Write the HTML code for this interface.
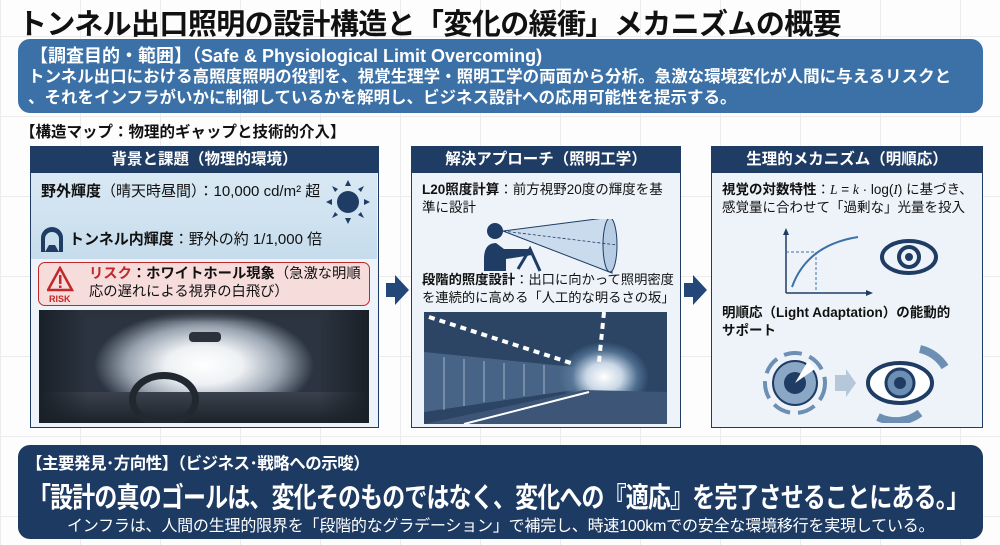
<!DOCTYPE html>
<html><head><meta charset="utf-8"><style>
*{margin:0;padding:0;box-sizing:border-box}
body{width:1000px;height:545px;overflow:hidden;position:relative;font-family:"Liberation Sans","Noto Sans CJK JP",sans-serif;color:#111;
background-color:#fdfdfd;background-image:linear-gradient(#ececec 1px,transparent 1px),linear-gradient(90deg,#ececec 1px,transparent 1px);background-size:80px 80px;background-position:0 36px}
.a{position:absolute;white-space:nowrap}
.title{left:18px;top:1px;font-size:29px;font-weight:bold;letter-spacing:-0.6px}
.top{left:18px;top:39px;width:965px;height:74px;background:#3c71a8;border-radius:12px;color:#fff}
.panel{position:absolute;top:146px;height:282px;border:1.5px solid #1f3c64;background:#eef3f9}
.ph{height:26px;background:#1f3c64;color:#fff;font-weight:bold;font-size:15.5px;text-align:center;line-height:26px}
.t{font-size:13.5px;line-height:18px;position:absolute;white-space:nowrap}
.bot{left:18px;top:445px;width:965px;height:94px;background:#1d3a62;border-radius:12px;color:#fff;overflow:hidden}
.arr{position:absolute;width:0;height:0;border-top:15px solid transparent;border-bottom:15px solid transparent;border-left:14px solid #24477a}
.arrb{position:absolute;width:10px;height:14px;background:#24477a}
</style></head><body>
<div class="a title">トンネル出口照明の設計構造と「変化の緩衝」メカニズムの概要</div>
<div class="a top">
 <div class="a" style="left:12px;top:3px;font-size:18px;font-weight:bold">【調査目的・範囲】（Safe &amp; Physiological Limit Overcoming)</div>
 <div class="a" style="left:10px;top:28px;font-size:16.5px;line-height:21px;font-weight:bold">トンネル出口における高照度照明の役割を、視覚生理学・照明工学の両面から分析。急激な環境変化が人間に与えるリスクと<br>、それをインフラがいかに制御しているかを解明し、ビジネス設計への応用可能性を提示する。</div>
</div>
<div class="a" style="left:20px;top:120px;font-size:15.5px;font-weight:bold">【構造マップ：物理的ギャップと技術的介入】</div>

<div class="panel" style="left:30px;width:349px">
 <div class="ph">背景と課題（物理的環境）</div>
 <div style="position:absolute;left:0;top:26px;width:346px;height:86px;background:linear-gradient(180deg,#d9e9f4,#c6dcec)"></div>
 <div class="t" style="left:10px;top:36px;font-size:15px"><b>野外輝度</b>（晴天時昼間）：10,000 cd/m² 超</div>
 <svg style="position:absolute;left:292px;top:30px" width="50" height="50"><g fill="#1f3c64"><circle cx="25" cy="25" r="11"/><polygon points="25,3 22,9 28,9"/><polygon points="25,47 22,41 28,41"/><polygon points="3,25 9,22 9,28"/><polygon points="47,25 41,22 41,28"/><polygon points="9,9 12,15 15,12"/><polygon points="41,9 35,12 38,15"/><polygon points="9,41 12,35 15,38"/><polygon points="41,41 38,35 35,38"/></g></svg>
 <svg style="position:absolute;left:10px;top:79px" width="22" height="26"><path d="M0 26 V12 A11 11 0 0 1 22 12 V26 H18 V13 A7 7 0 0 0 4 13 V26Z" fill="#1f3c64"/><path d="M4 26 L8 19 H14 L18 26Z" fill="#1f3c64"/></svg>
 <div class="t" style="left:38px;top:84px;font-size:15px"><b>トンネル内輝度</b>：野外の約 1/1,000 倍</div>
 <div style="position:absolute;left:7px;top:115px;width:332px;height:44px;background:#f7dcdc;border:1.5px solid #c0282a;border-radius:7px"></div>
 <svg style="position:absolute;left:16px;top:119px" width="32" height="38"><path d="M13 2 L25 24 H1Z" fill="none" stroke="#c0282a" stroke-width="2.5"/><rect x="12" y="9" width="2.5" height="9" fill="#c0282a"/><rect x="12" y="19.5" width="2.5" height="2.5" fill="#c0282a"/><text x="2" y="36" font-size="9" font-weight="bold" fill="#c0282a" font-family="Liberation Sans">RISK</text></svg>
 <div class="t" style="left:58px;top:118px;font-size:14.3px"><b style="color:#c0282a">リスク</b><b>：ホワイトホール現象</b>（急激な明順<br>応の遅れによる視界の白飛び）</div>
 <div style="position:absolute;left:8px;top:163px;width:330px;height:113px;background:radial-gradient(ellipse 110px 55px at 165px 55px,#fff 0%,#eef1f4 35%,#98a3b0 70%,#2b3440 100%);overflow:hidden">
  <div style="position:absolute;left:0;top:82px;width:330px;height:31px;background:linear-gradient(#3a424d,#1c222a)"></div>
  <div style="position:absolute;left:90px;top:62px;width:70px;height:55px;border:7px solid #222830;border-radius:50%"></div>
  <div style="position:absolute;left:0;top:0;width:50px;height:113px;background:linear-gradient(90deg,#1a2028,transparent)"></div>
  <div style="position:absolute;right:0;top:0;width:50px;height:113px;background:linear-gradient(270deg,#1a2028,transparent)"></div>
  <div style="position:absolute;left:40px;top:0;width:250px;height:12px;background:linear-gradient(#2b323c,transparent)"></div>
  <div style="position:absolute;left:150px;top:22px;width:32px;height:10px;background:#2b323c;border-radius:4px"></div>
 </div>
</div>
<div class="arrb" style="left:386px;top:283px"></div><div class="arr" style="left:395px;top:275px"></div>

<div class="panel" style="left:411px;width:270px">
 <div class="ph">解決アプローチ（照明工学）</div>
 <div class="t" style="left:10px;top:34px"><b>L20照度計算</b>：前方視野20度の輝度を基<br>準に設計</div>
 <svg style="position:absolute;left:70px;top:72px" width="140" height="62"><circle cx="13" cy="12" r="8" fill="#1f3c64"/><path d="M2 40 Q2 24 14 24 L22 30 L50 30 L50 36 L24 40 L24 52 L2 52Z" fill="#1f3c64"/><path d="M36 50 L48 30 L58 52" stroke="#1f3c64" stroke-width="3" fill="none"/><path d="M21 12 L130 -2 L130 54Z" fill="#c9dbec" stroke="#1f3c64" stroke-width="1"/><ellipse cx="128" cy="26" rx="7" ry="27" fill="#b7cde3" stroke="#1f3c64"/><line x1="21" y1="12" x2="135" y2="26" stroke="#1f3c64" stroke-dasharray="3 2" stroke-width="0.8"/></svg>
 <div class="t" style="left:10px;top:124px;font-size:13.3px"><b>段階的照度設計</b>：出口に向かって照明密度<br>を連続的に高める「人工的な明るさの坂」</div>
 <div style="position:absolute;left:12px;top:165px;width:243px;height:112px;background:radial-gradient(ellipse 45px 35px at 180px 65px,#fff 0%,#c9d7e6 40%,#4d6d8f 75%,#2c4565 100%);overflow:hidden">
  <svg style="position:absolute;left:0;top:0" width="243" height="112"><path d="M0 40 L150 55 L150 78 L0 100Z" fill="#5a7a9c" opacity="0.6"/><path d="M0 112 L160 78 L243 80 L243 112Z" fill="#3d5677"/><path d="M40 112 L165 80" stroke="#fff" stroke-width="2"/><path d="M5 5 L150 52" stroke="#fff" stroke-width="4" stroke-dasharray="6 5"/><path d="M180 0 L175 50" stroke="#fff" stroke-width="4" stroke-dasharray="6 5"/><g stroke="#c9d7e6" stroke-width="1" opacity="0.7"><path d="M20 45 V98 M40 47 V94 M60 49 V90 M80 51 V87 M100 52 V84 M120 53 V82"/></g></svg>
 </div>
</div>
<div class="arrb" style="left:684px;top:283px"></div><div class="arr" style="left:693px;top:275px"></div>

<div class="panel" style="left:711px;width:272px">
 <div class="ph">生理的メカニズム（明順応）</div>
 <div class="t" style="left:10px;top:34px"><b>視覚の対数特性</b>：<i style="font-family:'Liberation Serif',serif">L</i> = <i style="font-family:'Liberation Serif',serif">k</i> · log(<i style="font-family:'Liberation Serif',serif">I</i>) に基づき、<br>感覚量に合わせて「過剰な」光量を投入</div>
 <svg style="position:absolute;left:70px;top:80px" width="160" height="70"><path d="M4 66 V4 M4 66 H88" stroke="#1f3c64" stroke-width="1.5" fill="none"/><path d="M1 8 L4 1 L7 8Z M84 63 L91 66 L84 69Z" fill="#1f3c64"/><path d="M10 60 Q25 18 76 10" stroke="#3c71a8" stroke-width="2" fill="none"/><path d="M4 25 H34 V66" stroke="#3c71a8" stroke-dasharray="3 2" fill="none"/><ellipse cx="127" cy="30" rx="27" ry="16" fill="none" stroke="#1f3c64" stroke-width="4"/><circle cx="127" cy="30" r="10" fill="none" stroke="#1f3c64" stroke-width="4"/><circle cx="127" cy="30" r="4" fill="#1f3c64"/></svg>
 <div class="t" style="left:10px;top:157px"><b>明順応（Light Adaptation）の能動的<br>サポート</b></div>
 <svg style="position:absolute;left:48px;top:198px" width="200" height="78"><circle cx="35" cy="38" r="30" fill="none" stroke="#6d8fb3" stroke-width="4" stroke-dasharray="18 8"/><circle cx="35" cy="38" r="22" fill="#8aa7c6" stroke="#1f3c64" stroke-width="2"/><circle cx="35" cy="38" r="11" fill="#1f3c64"/><path d="M35 38 L48 16 L55 24Z" fill="#fff"/><path d="M75 30 H86 V24 L96 38 L86 52 V46 H75Z" fill="#b6c7da"/><ellipse cx="140" cy="38" rx="32" ry="20" fill="#fff" stroke="#1f3c64" stroke-width="4"/><circle cx="140" cy="38" r="14" fill="#6d8fb3" stroke="#1f3c64" stroke-width="3"/><circle cx="140" cy="38" r="6" fill="#1f3c64"/><path d="M160 4 A40 40 0 0 1 185 22" stroke="#6d8fb3" stroke-width="8" fill="none"/><path d="M118 72 A40 40 0 0 0 160 68" stroke="#6d8fb3" stroke-width="8" fill="none"/></svg>
</div>

<div class="a bot">
 <div class="a" style="left:8px;top:5px;font-size:16.5px;font-weight:bold;letter-spacing:-0.5px">【主要発見･方向性】（ビジネス･戦略への示唆）</div>
 <div class="a" style="left:10px;top:31px;font-size:28px;font-weight:bold;letter-spacing:-1px;transform:scaleX(0.82);transform-origin:0 0">「設計の真のゴールは、変化そのものではなく、変化への『適応』を完了させることにある。」</div>
 <div class="a" style="left:49px;top:67px;font-size:16px;letter-spacing:-0.2px">インフラは、人間の生理的限界を「段階的なグラデーション」で補完し、時速100kmでの安全な環境移行を実現している。</div>
</div>
</body></html>
